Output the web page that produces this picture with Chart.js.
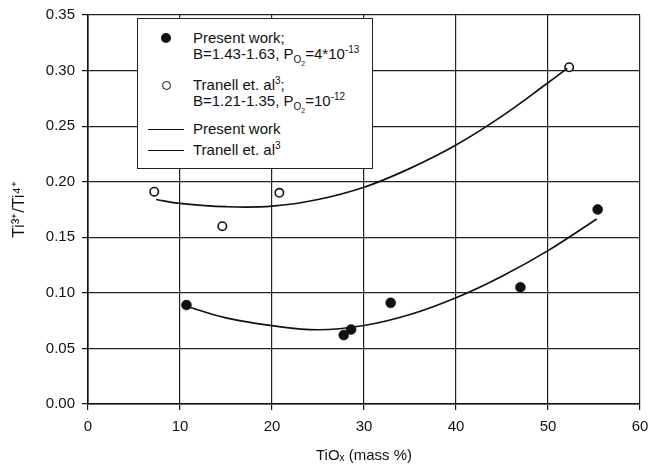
<!DOCTYPE html>
<html>
<head>
<meta charset="utf-8">
<script src="https://cdn.jsdelivr.net/npm/chart.js@4"></script>
<style>
  html, body { margin: 0; padding: 0; background: #fff; }
  #wrap { position: relative; width: 651px; height: 470px; }
  #legend {
    position: absolute; left: 137px; top: 18px; width: 236px; height: 151px;
    box-sizing: border-box; border: 1px solid #222; background: #fff;
    font-family: "Liberation Sans", Arial, sans-serif; font-size: 15px; color: #111;
  }
  .row { position: absolute; left: 55px; white-space: nowrap; line-height: 16px; }
  .mk { position: absolute; box-sizing: border-box; border-radius: 50%; }
  .ln { position: absolute; left: 10px; width: 36px; height: 0; border-top: 1.5px solid #111; }
  sup, sub { font-size: 10px; line-height: 0; }
</style>
</head>
<body>
<div id="wrap">
  <canvas id="c" width="651" height="470"></canvas>
  <div id="legend">
    <div class="mk" style="left:23px;top:14px;width:10px;height:10px;background:#111;"></div>
    <div class="row" style="top:11px;">Present work;</div>
    <div class="row" style="top:27px;">B=1.43-1.63, P<sub>O<sub style="font-size:7px">2</sub></sub>=4*10<sup>-13</sup></div>
    <div class="mk" style="left:24px;top:62px;width:9px;height:9px;border:1.5px solid #111;"></div>
    <div class="row" style="top:58px;">Tranell et. al<sup>3</sup>;</div>
    <div class="row" style="top:74px;">B=1.21-1.35, P<sub>O<sub style="font-size:7px">2</sub></sub>=10<sup>-12</sup></div>
    <div class="ln" style="top:110px;"></div>
    <div class="row" style="top:102px;">Present work</div>
    <div class="ln" style="top:131px;"></div>
    <div class="row" style="top:123px;">Tranell et. al<sup>3</sup></div>
  </div>
</div>
<script>
// Measured points
const presentX = [10.7, 27.8, 28.6, 32.9, 47.0, 55.4];
const presentY = [0.089, 0.062, 0.067, 0.091, 0.105, 0.175];
const tranellX = [7.2, 14.6, 20.8, 52.3];
const tranellY = [0.191, 0.160, 0.190, 0.303];
// Fitted curves
const presentFitX = [10.7, 15, 20, 25, 30, 35, 40, 45, 50, 55.3];
const presentFitY = [0.088, 0.0775, 0.0705, 0.0668, 0.0706, 0.0805, 0.0956, 0.115, 0.138, 0.1665];
const tranellFitX = [7.4, 10, 15, 20, 25, 30, 35, 40, 45, 50, 52.1];
const tranellFitY = [0.184, 0.1805, 0.1775, 0.178, 0.184, 0.195, 0.212, 0.233, 0.259, 0.289, 0.302];
// Axes
const xTicks = [0, 10, 20, 30, 40, 50, 60];
const yTicks = [0.00, 0.05, 0.10, 0.15, 0.20, 0.25, 0.30, 0.35];

const zip = (xs, ys) => xs.map((x, i) => ({x: x, y: ys[i]}));
const FONT = "'Liberation Sans', Arial, sans-serif";

new Chart(document.getElementById('c'), {
  type: 'scatter',
  data: {
    datasets: [
      { label: 'Present work fit', data: zip(presentFitX, presentFitY), showLine: true,
        borderColor: '#111', borderWidth: 1.7, pointRadius: 0, tension: 0.4 },
      { label: 'Tranell fit', data: zip(tranellFitX, tranellFitY), showLine: true,
        borderColor: '#111', borderWidth: 1.7, pointRadius: 0, tension: 0.4 },
      { label: 'Present work', data: zip(presentX, presentY), pointRadius: 5,
        pointBackgroundColor: '#111', pointBorderColor: '#111', pointBorderWidth: 0.5 },
      { label: 'Tranell', data: zip(tranellX, tranellY), pointRadius: 4.2,
        pointBackgroundColor: '#fff', pointBorderColor: '#111', pointBorderWidth: 1.6 }
    ]
  },
  options: {
    responsive: false, animation: false, devicePixelRatio: 1,
    layout: { padding: { top: 15, right: 11, left: 0, bottom: 0 } },
    plugins: { legend: { display: false }, tooltip: { enabled: false } },
    scales: {
      x: {
        type: 'linear', min: 0, max: 60,
        afterBuildTicks: s => { s.ticks = xTicks.map(v => ({value: v})); },
        afterFit: s => { s.height = 66; s.paddingLeft = 0; s.paddingRight = 0; },
        ticks: { color: '#111', font: { family: FONT, size: 15 }, padding: 8, maxRotation: 0 },
        grid: { color: '#222', lineWidth: 1.2, tickLength: 6, tickColor: '#111' },
        border: { color: '#111', width: 1.6 },
        title: { display: true, text: 'TiOₓ (mass %)', color: '#111', font: { family: FONT, size: 15 }, padding: { top: 4, bottom: 5 } }
      },
      y: {
        type: 'linear', min: 0, max: 0.35,
        afterBuildTicks: s => { s.ticks = yTicks.map(v => ({value: v})); },
        afterFit: s => { s.width = 88; s.paddingTop = 0; s.paddingBottom = 0; },
        ticks: { color: '#111', font: { family: FONT, size: 15 }, padding: 7, callback: v => v.toFixed(2) },
        grid: { color: '#222', lineWidth: 1.2, tickLength: 6, tickColor: '#111' },
        border: { color: '#111', width: 1.6 },
        title: { display: true, text: 'Ti³⁺/Ti⁴⁺', color: '#111', font: { family: FONT, size: 17 }, padding: { top: 9, bottom: 4 } }
      }
    }
  }
});
</script>
</body>
</html>
